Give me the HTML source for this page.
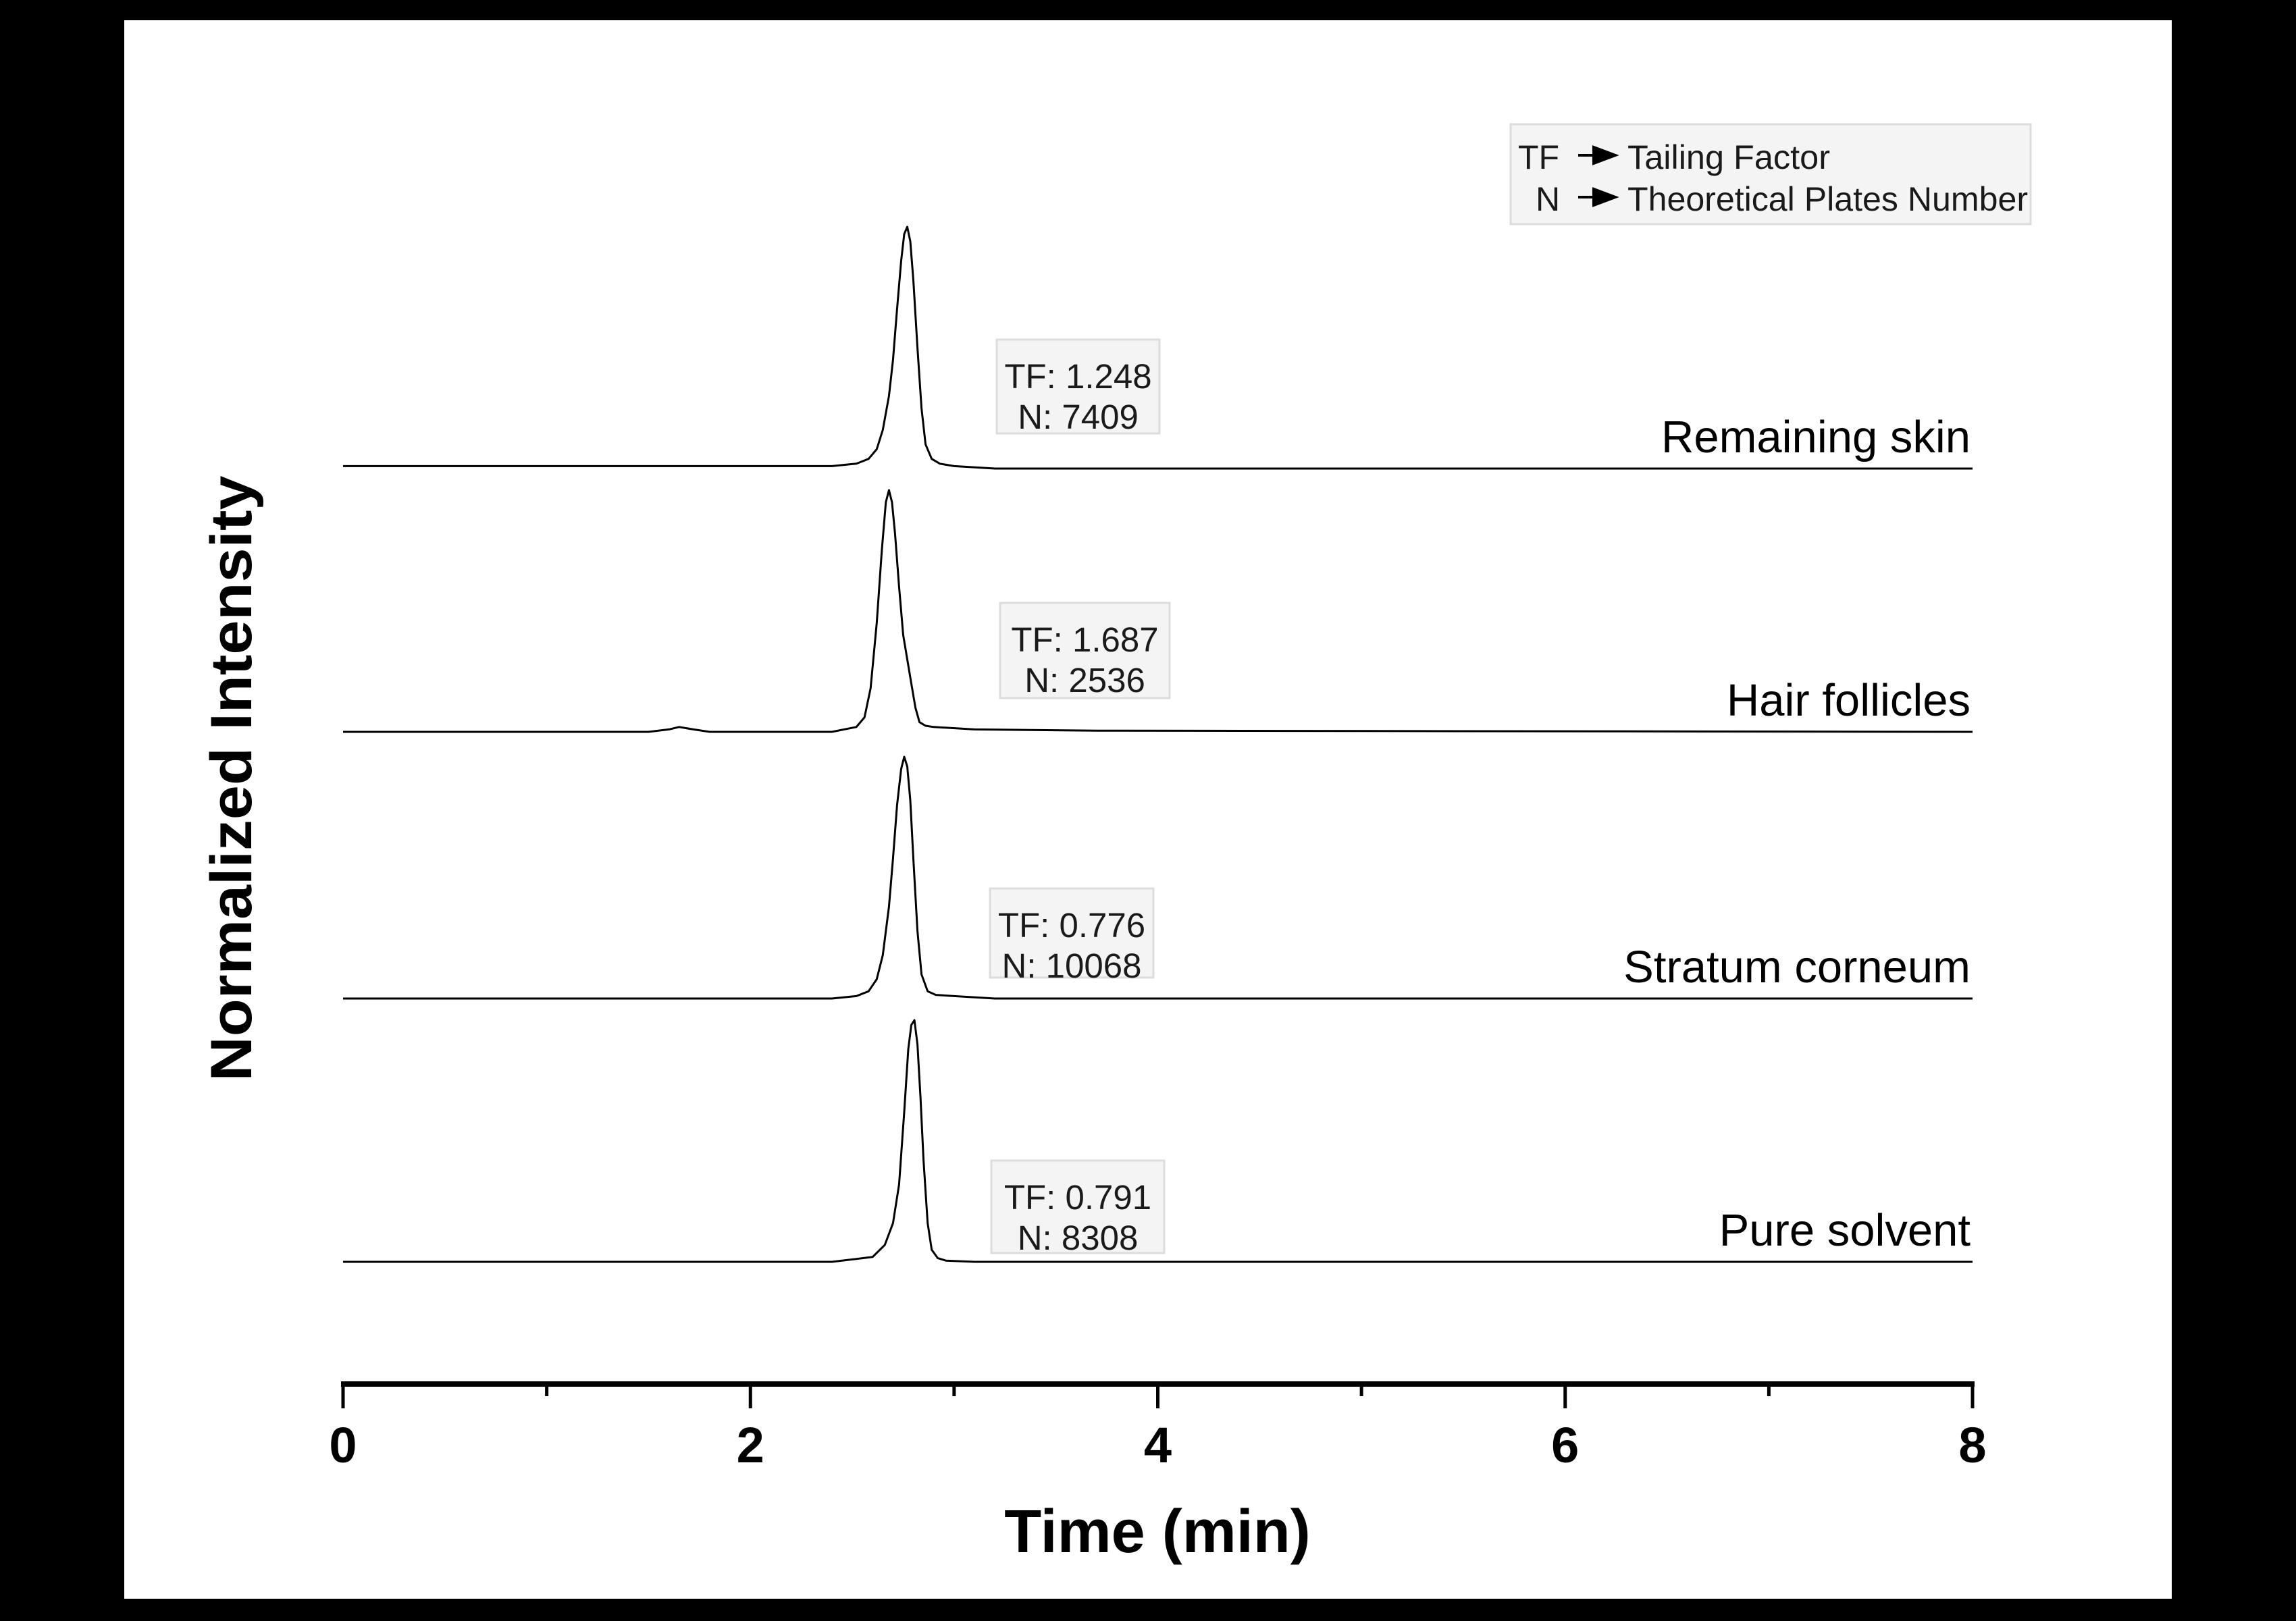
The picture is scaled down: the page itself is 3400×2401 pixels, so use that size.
<!DOCTYPE html>
<html><head><meta charset="utf-8"><style>
html,body{margin:0;padding:0;background:#000;}
svg{display:block;font-family:"Liberation Sans",Arial,sans-serif;}
</style></head><body>
<svg id="chart" width="3400" height="2401" viewBox="0 0 3400 2401">
<rect x="0" y="0" width="3400" height="2401" fill="#000"/>
<rect x="184" y="30" width="3032" height="2338" fill="#fff"/>
<g id="traces"></g>
<g id="xaxis"></g>
<text x="343" y="1153" transform="rotate(-90 343 1153)" text-anchor="middle" dominant-baseline="central" font-weight="bold" font-size="86" textLength="897" lengthAdjust="spacingAndGlyphs">Normalized Intensity</text>
<text x="1714" y="2299" text-anchor="middle" font-weight="bold" font-size="90">Time (min)</text>
<g>
<rect x="2237" y="184" width="770" height="148" fill="#f4f4f4" stroke="#dcdcdc" stroke-width="3"/>
<text x="2248" y="250" font-size="50" fill="#1a1a1a">TF</text>
<text x="2274" y="312" font-size="50" fill="#1a1a1a">N</text>
<path d="M2337 230 H2368 M2360 218 L2392 230 L2360 242 Z" stroke="#000" stroke-width="4" fill="#000"/>
<path d="M2337 292 H2368 M2360 280 L2392 292 L2360 304 Z" stroke="#000" stroke-width="4" fill="#000"/>
<text x="2410" y="250" font-size="50" fill="#1a1a1a" textLength="300" lengthAdjust="spacingAndGlyphs">Tailing Factor</text>
<text x="2410" y="312" font-size="50" fill="#1a1a1a" textLength="593" lengthAdjust="spacingAndGlyphs">Theoretical Plates Number</text>
</g>
<g id="annots"></g>
</svg>
<script>
const seriesNames = ["Remaining skin","Hair follicles","Stratum corneum","Pure solvent"];
const tfValues = ["1.248","1.687","0.776","0.791"];
const nValues = ["7409","2536","10068","8308"];
const timesRemaining = [0,2.4,2.52,2.58,2.62,2.65,2.68,2.70,2.72,2.74,2.755,2.77,2.785,2.80,2.82,2.84,2.86,2.89,2.93,3.0,3.2,8];
const valsRemaining  = [0.01,0.01,0.02,0.04,0.08,0.16,0.3,0.45,0.66,0.86,0.97,1.0,0.94,0.78,0.5,0.25,0.1,0.04,0.02,0.01,0,0];
const timesHair = [0,1.5,1.6,1.65,1.72,1.8,2.4,2.52,2.56,2.59,2.62,2.645,2.665,2.68,2.695,2.71,2.73,2.75,2.77,2.79,2.81,2.83,2.86,2.9,3.1,3.7,8];
const valsHair  = [0,0,0.01,0.02,0.01,0,0,0.02,0.06,0.18,0.45,0.75,0.95,1.0,0.95,0.82,0.6,0.4,0.3,0.2,0.1,0.04,0.025,0.02,0.01,0.005,0];
const timesStratum = [0,2.4,2.52,2.58,2.62,2.65,2.68,2.70,2.72,2.74,2.755,2.77,2.785,2.80,2.82,2.84,2.87,2.91,3.0,3.2,8];
const valsStratum  = [0,0,0.01,0.03,0.08,0.18,0.38,0.58,0.8,0.95,1.0,0.96,0.82,0.58,0.28,0.1,0.03,0.015,0.01,0,0];
const timesPure = [0,2.4,2.6,2.66,2.70,2.73,2.755,2.775,2.79,2.805,2.82,2.835,2.85,2.87,2.89,2.92,2.96,3.1,8];
const valsPure  = [0,0,0.02,0.07,0.16,0.32,0.62,0.88,0.98,1.0,0.9,0.68,0.42,0.16,0.05,0.015,0.005,0,0];
const baselines = [694,1084,1479,1869];
const xTicks = [0,2,4,6,8];
const xMinorTicks = [1,3,5,7];

const NS="http://www.w3.org/2000/svg";
const X0=508,X1=2921,TMAX=8,PEAKH=358;
function xs(t){return X0+(t/TMAX)*(X1-X0);}
function ys(v,i){return baselines[i]-v*PEAKH;}
const allT=[timesRemaining,timesHair,timesStratum,timesPure];
const allV=[valsRemaining,valsHair,valsStratum,valsPure];
const tg=document.getElementById('traces');
allT.forEach((ts,i)=>{
  let d="";
  ts.forEach((t,k)=>{d+=(k?"L":"M")+xs(t).toFixed(1)+" "+ys(allV[i][k],i).toFixed(1)+" ";});
  const p=document.createElementNS(NS,'path');
  p.setAttribute('d',d);p.setAttribute('fill','none');p.setAttribute('stroke','#000');
  p.setAttribute('stroke-width','3');p.setAttribute('stroke-linejoin','round');
  
  
  tg.appendChild(p);
  const lab=document.createElementNS(NS,'text');
  lab.setAttribute('x',2918);lab.setAttribute('y',baselines[i]-24);
  lab.setAttribute('text-anchor','end');lab.setAttribute('font-size','67');
  lab.textContent=seriesNames[i];
  
  
  tg.appendChild(lab);
});
const boxes=[[1476,503,241,139],[1481,893,251,141],[1466,1316,242,132],[1468,1719,256,137]];
const ag=document.getElementById('annots');
boxes.forEach((b,i)=>{
  const r=document.createElementNS(NS,'rect');
  r.setAttribute('x',b[0]);r.setAttribute('y',b[1]);r.setAttribute('width',b[2]);r.setAttribute('height',b[3]);
  r.setAttribute('fill','#f4f4f4');r.setAttribute('stroke','#dcdcdc');r.setAttribute('stroke-width','3');
  
  
  ag.appendChild(r);
  const cx=b[0]+b[2]/2;
  const t1=document.createElementNS(NS,'text');
  t1.setAttribute('x',cx);t1.setAttribute('y',b[1]+72);t1.setAttribute('font-size','51');t1.setAttribute('fill','#1a1a1a');
  t1.setAttribute('text-anchor','middle');
  t1.textContent="TF: "+tfValues[i];
  
  
  ag.appendChild(t1);
  const t2=document.createElementNS(NS,'text');
  t2.setAttribute('x',cx);t2.setAttribute('y',b[1]+132);t2.setAttribute('font-size','51');t2.setAttribute('fill','#1a1a1a');
  t2.setAttribute('text-anchor','middle');
  t2.textContent="N: "+nValues[i];
  
  
  ag.appendChild(t2);
});
const xg=document.getElementById('xaxis');
const line=document.createElementNS(NS,'rect');
line.setAttribute('x',X0-3);line.setAttribute('y',2046);line.setAttribute('width',X1-X0+6);line.setAttribute('height',8);


xg.appendChild(line);
xTicks.forEach(v=>{
  const t=document.createElementNS(NS,'rect');
  t.setAttribute('x',xs(v)-2.5);t.setAttribute('y',2050);t.setAttribute('width',5);t.setAttribute('height',36);
  
  
  xg.appendChild(t);
  const l=document.createElementNS(NS,'text');
  l.setAttribute('x',xs(v));l.setAttribute('y',2166);l.setAttribute('text-anchor','middle');
  l.setAttribute('font-size','74');l.setAttribute('font-weight','bold');
  l.textContent=v;
  
  
  xg.appendChild(l);
});
xMinorTicks.forEach(v=>{
  const t=document.createElementNS(NS,'rect');
  t.setAttribute('x',xs(v)-2.5);t.setAttribute('y',2050);t.setAttribute('width',5);t.setAttribute('height',18);
  
  
  xg.appendChild(t);
});
</script>
</body></html>
